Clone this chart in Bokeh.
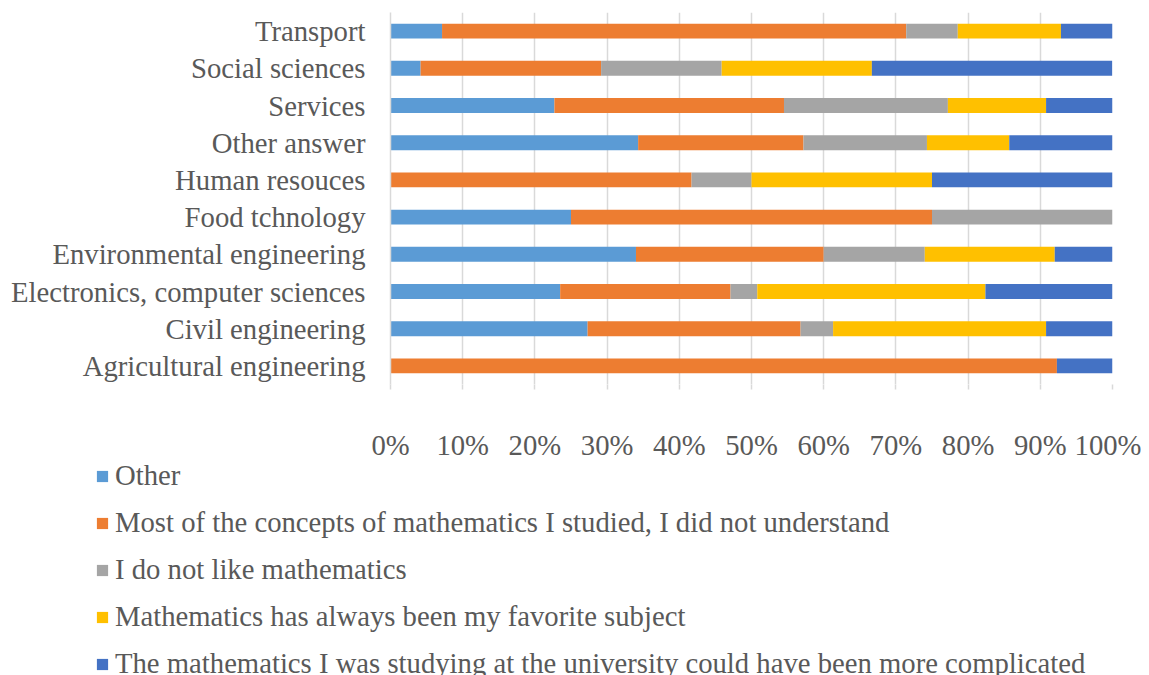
from bokeh.plotting import figure
from bokeh.layouts import column
from bokeh.models import ColumnDataSource, FactorRange, Range1d, Legend, LegendItem, FixedTicker
from bokeh.embed import file_html
from bokeh.resources import INLINE

# Categories, top to bottom as in the chart
categories = ["Transport", "Social sciences", "Services", "Other answer", "Human resouces",
              "Food tchnology", "Environmental engineering", "Electronics, computer sciences",
              "Civil engineering", "Agricultural engineering"]

series_names = ["Other",
                "Most of the concepts of mathematics I studied, I did not understand",
                "I do not like mathematics",
                "Mathematics has always been my favorite subject",
                "The mathematics I was studying at the university could have been more complicated"]

other       = [7.14, 4.17, 22.7, 34.3, 0.0, 25.0, 34.0, 23.5, 27.3, 0.0]
not_underst = [64.29, 25.0, 31.8, 22.9, 41.7, 50.0, 26.0, 23.6, 29.5, 92.3]
dislike     = [7.14, 16.7, 22.7, 17.1, 8.3, 25.0, 14.0, 3.7, 4.5, 0.0]
favorite    = [14.29, 20.8, 13.6, 11.4, 25.0, 0.0, 18.0, 31.6, 29.5, 0.0]
complicated = [7.14, 33.3, 9.2, 14.3, 25.0, 0.0, 8.0, 17.6, 9.2, 7.7]

colors = ["#5B9BD5", "#ED7D31", "#A5A5A5", "#FFC000", "#4472C4"]

tick_values = [0, 10, 20, 30, 40, 50, 60, 70, 80, 90, 100]
tick_labels = ["0%", "10%", "20%", "30%", "40%", "50%", "60%", "70%", "80%", "90%", "100%"]

keys = ["other", "not_underst", "dislike", "favorite", "complicated"]
source = ColumnDataSource(dict(cat=categories, other=other, not_underst=not_underst,
                               dislike=dislike, favorite=favorite, complicated=complicated))

FONT = "Liberation Serif"
TXT = "#595959"
FS = "28.7px"
W = 1141
TOP_H = 463
LEG_H = 675 - TOP_H

p = figure(width=W, height=TOP_H, output_backend="svg", toolbar_location=None,
           y_range=FactorRange(factors=list(reversed(categories)), range_padding=0),
           x_range=Range1d(0, 100),
           min_border_left=390, min_border_right=W - 1112, min_border_top=12,
           min_border_bottom=TOP_H - 386)
p.frame_align = False

renderers = p.hbar_stack(keys, y="cat", height=0.4, color=colors, source=source, line_width=0)

p.outline_line_color = None
p.ygrid.grid_line_color = None
p.xgrid.grid_line_color = "#D9D9D9"
p.xgrid.grid_line_width = 1.5
p.xgrid.ticker = FixedTicker(ticks=tick_values)

p.xaxis.ticker = FixedTicker(ticks=tick_values)
p.xaxis.major_label_overrides = {v: l for v, l in zip(tick_values, tick_labels)}
p.xaxis.axis_line_color = None
p.xaxis.major_tick_line_color = "#D9D9D9"
p.xaxis.major_tick_line_width = 1.5
p.xaxis.major_tick_out = 5
p.xaxis.major_tick_in = 0
p.xaxis.minor_tick_line_color = None
p.xaxis.major_label_standoff = 39
p.xaxis.major_label_text_font = FONT
p.xaxis.major_label_text_font_size = FS
p.xaxis.major_label_text_color = TXT

p.yaxis.axis_line_color = "#D9D9D9"
p.yaxis.axis_line_width = 1.5
p.yaxis.major_tick_line_color = None
p.yaxis.major_tick_out = 0
p.yaxis.major_tick_in = 0
p.yaxis.minor_tick_line_color = None
p.yaxis.major_label_standoff = 25
p.yaxis.major_label_text_font = FONT
p.yaxis.major_label_text_font_size = FS
p.yaxis.major_label_text_color = TXT

# Legend in its own figure below the chart (hidden copies of the series supply the swatches)
p2 = figure(width=W, height=LEG_H, output_backend="svg", toolbar_location=None,
            y_range=FactorRange(factors=list(reversed(categories))), x_range=Range1d(0, 100),
            x_axis_location=None, y_axis_location=None, min_border=0)
p2.frame_align = False
p2.outline_line_color = None
p2.xgrid.grid_line_color = None
p2.ygrid.grid_line_color = None

leg_renderers = p2.hbar_stack(keys, y="cat", height=0.4, color=colors, source=source, line_width=0)
for r in leg_renderers:
    r.visible = False
items = [LegendItem(label=n, renderers=[r]) for n, r in zip(series_names, leg_renderers)]

ITEM_H = 33
SPACING = 14
leg_height = 5 * ITEM_H + 4 * SPACING
legend = Legend(items=items, location=(95, LEG_H - leg_height + 4), orientation="vertical",
                glyph_width=14, glyph_height=14, label_height=ITEM_H, spacing=SPACING,
                padding=0, margin=0, label_standoff=6, click_policy="none",
                label_text_font=FONT, label_text_font_size=FS, label_text_color=TXT,
                border_line_color=None, background_fill_alpha=0)
p2.add_layout(legend, "center")

layout = column(p, p2, spacing=0)
open("out.html", "w").write(file_html(layout, INLINE))
